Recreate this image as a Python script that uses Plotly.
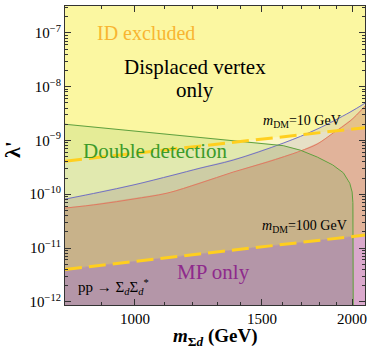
import itertools
import numpy as np
import plotly.graph_objects as go

# ---------------- data ----------------
x_range_gev = [800, 2084]
y_range_log = [-12.06, -6.5]

green_m = [800, 1050, 1230, 1370, 1525, 1605, 1695, 1790, 1880, 1945, 1985, 2000, 2005, 2007, 2008]
green_lam = [2.0e-9, 1.41e-9, 1.14e-9, 1.0e-9, 8.65e-10, 8.0e-10, 6.6e-10, 4.9e-10, 3.5e-10,
             2.5e-10, 1.6e-10, 1.1e-10, 7e-11, 3e-11, 1e-13]

blue_m = [800, 894, 994, 1129, 1231, 1368, 1605, 1788, 1987, 2084]
blue_lam = [8.1e-11, 1.09e-10, 1.48e-10, 2.26e-10, 3.05e-10, 4.31e-10, 8.9e-10, 1.62e-9, 3.36e-9, 4.93e-9]

red_m = [800, 894, 994, 1108, 1231, 1368, 1525, 1694, 1788, 1882, 1987, 2084]
red_lam = [5.52e-11, 6.55e-11, 8.11e-11, 1.047e-10, 1.607e-10, 2.58e-10, 3.95e-10, 6.32e-10,
           8.53e-10, 1.37e-9, 2.29e-9, 4.35e-9]

dm10_m = [800, 2084]
dm10_lam = [4.12e-10, 1.73e-9]
dm100_m = [800, 2084]
dm100_lam = [4.0e-12, 1.74e-11]

x_tickvals = [1000, 1500, 2000]
x_minor = [800, 900, 1100, 1200, 1300, 1400, 1600, 1700, 1800, 1900]
y_exps = [-12, -11, -10, -9, -8, -7]

# ---------------- region colours ----------------
# flags: (below 10 GeV line, below 100 GeV line, below red, below blue, inside green)
region_colors = {
    (0, 0, 0, 0, 0): '#FBF7A1',
    (1, 0, 0, 0, 0): '#FAF6C8',
    (0, 0, 0, 0, 1): '#E5EC97',
    (1, 0, 0, 0, 1): '#E1E9AF',
    (1, 0, 0, 1, 1): '#CDCDA5',
    (1, 0, 1, 1, 1): '#C8B28A',
    (1, 1, 1, 1, 1): '#B496A8',
    (1, 0, 1, 1, 0): '#E1B39A',
    (1, 1, 1, 1, 0): '#DAA9CC',
    (1, 0, 0, 1, 0): '#E6E0C6',
    (0, 0, 0, 1, 0): '#E9E2A6',
    (0, 0, 1, 1, 0): '#E5C28B',
    (0, 0, 0, 1, 1): '#D3D295',
    (0, 0, 1, 1, 1): '#CBB27F',
}

# ---------------- build regions ----------------
lx = np.linspace(np.log10(x_range_gev[0]), np.log10(x_range_gev[1]), 3000)
lx = np.unique(np.concatenate([lx, np.log10(green_m)]))
lx = lx[(lx >= np.log10(x_range_gev[0])) & (lx <= np.log10(x_range_gev[1]))]

c_d10 = np.interp(lx, np.log10(dm10_m), np.log10(dm10_lam))
c_d100 = np.interp(lx, np.log10(dm100_m), np.log10(dm100_lam))
c_red = np.interp(lx, np.log10(red_m), np.log10(red_lam))
c_blue = np.interp(lx, np.log10(blue_m), np.log10(blue_lam))
c_green = np.interp(lx, np.log10(green_m), np.log10(green_lam), right=-30)
curves = [c_d10, c_d100, c_red, c_blue, c_green]

fig = go.Figure()
xs = 10 ** lx
for flags in itertools.product([0, 1], repeat=5):
    lo = np.full_like(lx, y_range_log[0])
    hi = np.full_like(lx, y_range_log[1])
    for f, c in zip(flags, curves):
        if f:
            hi = np.minimum(hi, c)
        else:
            lo = np.maximum(lo, c)
    mask = hi > lo
    if not mask.any():
        continue
    col = region_colors.get(flags)
    if col is None:
        continue
    px, py = [], []
    idx = np.where(mask)[0]
    runs = np.split(idx, np.where(np.diff(idx) > 1)[0] + 1)
    for r in runs:
        if len(r) < 2:
            continue
        px += list(xs[r]) + list(xs[r][::-1]) + [None]
        py += list(10 ** hi[r]) + list(10 ** lo[r][::-1]) + [None]
    fig.add_trace(go.Scatter(x=px, y=py, mode='lines', fill='toself', fillcolor=col,
                             line=dict(color=col, width=0.6), hoverinfo='skip',
                             showlegend=False))

# boundary lines
fig.add_trace(go.Scatter(x=red_m, y=red_lam, mode='lines', line=dict(color='#E07A62', width=1),
                         showlegend=False, line_shape='spline'))
fig.add_trace(go.Scatter(x=blue_m, y=blue_lam, mode='lines', line=dict(color='#7272C4', width=1),
                         showlegend=False, line_shape='spline'))
fig.add_trace(go.Scatter(x=green_m + [green_m[-1]], y=green_lam + [1e-13], mode='lines',
                         line=dict(color='#5FA03E', width=1), showlegend=False))
for mm, ll in [(dm10_m, dm10_lam), (dm100_m, dm100_lam)]:
    fig.add_trace(go.Scatter(x=mm, y=ll, mode='lines',
                             line=dict(color='#FFCF1E', width=3, dash='17px,7px'),
                             showlegend=False))

serif = 'Liberation Serif'
L, R, T, B = 65, 365, 6, 305


def ann(text, px, py, size, color='black', angle=0):
    fig.add_annotation(text=text, x=(px - L) / (R - L), y=(B - py) / (B - T), xref='paper',
                       yref='paper', showarrow=False, xanchor='center', yanchor='middle',
                       font=dict(family=serif, size=size, color=color), textangle=angle)


ann('ID excluded', 146, 33, 20, '#F8B531')
ann('Displaced vertex', 194.5, 67, 21)
ann('only', 194.5, 90, 21)
ann('<i>m</i><sub>DM</sub>=10 GeV', 302, 122, 14)
ann('Double detection', 155, 151, 21, '#3C9B2A')
ann('<i>m</i><sub>DM</sub>=100 GeV', 304, 227, 14)
ann('MP only', 213, 272, 21, '#8E2A8C')
ann('pp → Σ<sub><i>d</i></sub>Σ<sub><i>d</i></sub><sup>*</sup>', 113, 287, 15)
ann('<b><i>m</i><sub>Σ<i>d</i></sub> (GeV)</b>', 215, 337, 19)
ann("<b>λ'</b>", 12, 150, 22, angle=-90)

fig.update_layout(
    width=367, height=349,
    margin=dict(l=L, r=367 - R, t=T, b=349 - B, autoexpand=False),
    paper_bgcolor='white', plot_bgcolor=region_colors[(0, 0, 0, 0, 0)],
    font=dict(family=serif, size=15, color='black'),
    showlegend=False,
)
fig.update_xaxes(type='log', range=[np.log10(x_range_gev[0]), np.log10(x_range_gev[1])],
                 tickmode='array', tickvals=x_tickvals, ticktext=[str(v) for v in x_tickvals],
                 ticks='inside', ticklen=6, tickcolor='#333', showline=True, linecolor='#333',
                 linewidth=1, mirror='ticks', showgrid=False, zeroline=False,
                 ticklabeloverflow='allow',
                 minor=dict(tickmode='array', tickvals=x_minor, ticks='inside', ticklen=3,
                            tickcolor='#333', showgrid=False),
                 tickfont=dict(family=serif, size=15))
y_minor = [m * 10.0 ** e for e in range(-13, -6) for m in range(2, 10)]
fig.update_yaxes(type='log', range=y_range_log, tickmode='array',
                 tickvals=[10.0 ** e for e in y_exps],
                 ticktext=['10<sup>−%d</sup>' % (-e) for e in y_exps],
                 ticks='inside', ticklen=6, tickcolor='#333', showline=True, linecolor='#333',
                 linewidth=1, mirror='ticks', showgrid=False, zeroline=False,
                 ticklabeloverflow='allow',
                 minor=dict(tickmode='array', tickvals=y_minor, ticks='inside', ticklen=3,
                            tickcolor='#333', showgrid=False),
                 tickfont=dict(family=serif, size=15))

fig.write_html('out.html', config={'displayModeBar': False},
               post_script="document.body.style.margin='0';")
